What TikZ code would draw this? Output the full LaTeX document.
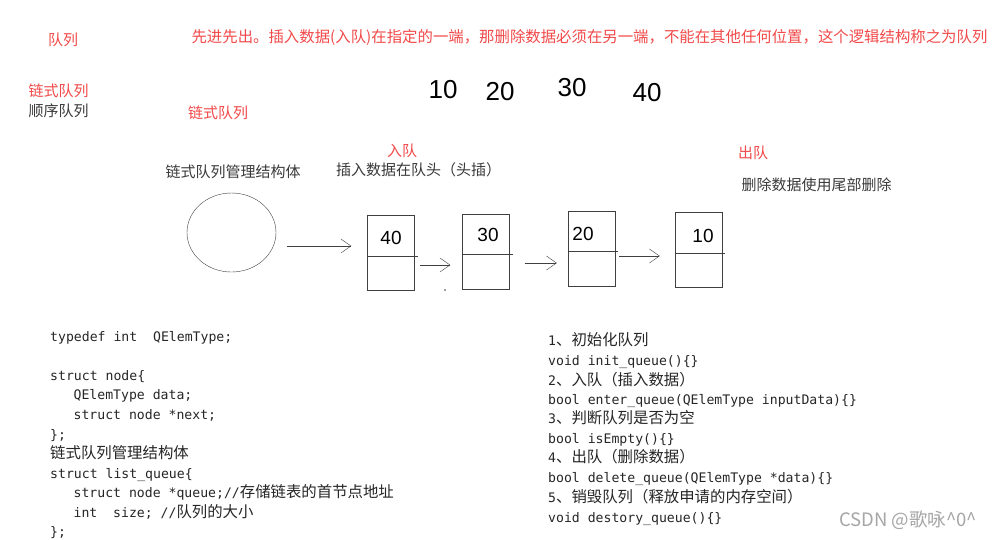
\documentclass[tikz,border=0pt]{standalone}
\usepackage{fontspec}
\setmainfont{Liberation Sans}
\setmonofont{DejaVu Sans Mono}
\newfontfamily\cjk{Noto Sans CJK SC}
\usetikzlibrary{arrows.meta,shapes.geometric}
\definecolor{redtxt}{HTML}{F24A4A}
\definecolor{darktxt}{HTML}{3A3A3A}
\definecolor{linec}{HTML}{404040}
\definecolor{codec}{HTML}{262626}
\newcommand{\zh}[1]{{\cjk\fontsize{15.4}{15.4}\selectfont #1}}
\begin{document}
\begin{tikzpicture}[x=1pt,y=-1pt,
  lab/.style={font=\cjk\fontsize{15}{15}\selectfont, inner sep=0pt, text=darktxt},
  redlab/.style={lab, text=redtxt},
  code/.style={font=\ttfamily\fontsize{13.15}{13.15}\selectfont, inner sep=0pt, anchor=base west, text=codec},
  qbox/.style={draw=linec, minimum width=48pt, minimum height=75pt, inner sep=0pt},
  link/.style={draw=linec, -{Straight Barb[length=10pt,width=14pt]}},
  hand/.style={font=\fontsize{26}{26}\selectfont, inner sep=0pt, text=black},
  boxnum/.style={font=\fontsize{19}{19}\selectfont, inner sep=0pt, text=black}
]
\useasboundingbox[fill=white] (0,0) rectangle (996,539);

% top labels
\node[redlab] (t1) at (63,40) {队列};
\node[redlab, font=\cjk\fontsize{15.4}{15.4}\selectfont] (title) at (589.5,37) {先进先出。插入数据(入队)在指定的一端，那删除数据必须在另一端，不能在其他任何位置，这个逻辑结构称之为队列};
\node[redlab] (t2) at (58.5,91) {链式队列};
\node[lab] (t3) at (58.5,110.5) {顺序队列};
\node[redlab] (t4) at (218,113) {链式队列};

% handwritten numbers
\node[hand] (h10) at (443,90) {10};
\node[hand] (h20) at (500,92) {20};
\node[hand] (h30) at (572,88) {30};
\node[hand] (h40) at (647,93) {40};

% middle labels
\node[lab] (mgr) at (233,171.5) {链式队列管理结构体};
\node[redlab] (enq) at (402,151) {入队};
\node[lab] (enqd) at (418.5,169.5) {插入数据在队头（头插）};
\node[redlab] (deq) at (753,153) {出队};
\node[lab] (deqd) at (816.5,185) {删除数据使用尾部删除};

% structure
\node[draw=linec, ellipse, minimum width=89pt, minimum height=79pt, inner sep=0pt] (ell) at (231.5,232.5) {};
\node[qbox, minimum width=47pt] (b40) at (391,253) {};
\node[qbox, minimum width=47pt] (b30) at (486,251.5) {};
\node[qbox, minimum width=47pt] (b20) at (591.5,248.5) {};
\node[qbox, minimum width=47pt] (b10) at (698.5,250) {};

\draw[linec] (b40.west |- 0,256) -- (418,256);
\draw[linec] (b30.west |- 0,254.5) -- (513,254.5);
\draw[linec] (b20.west |- 0,251.5) -- (618,251.5);
\draw[linec] (b10.west |- 0,253) -- (725,253);

\node[boxnum] (n40) at (391,238) {40};
\node[boxnum] (n30) at (488,235) {30};
\node[boxnum] (n20) at (583,234) {20};
\node[boxnum] (n10) at (703,236) {10};

\draw[link, shorten <=11pt, shorten >=16pt] (ell.east |- 0,246) -- (b40.west |- 0,246);
\draw[link, shorten <=5pt, shorten >=12pt] (b40.east |- 0,265) -- (b30.west |- 0,265);
\draw[link, shorten <=15pt, shorten >=11pt] (b30.east |- 0,263) -- (b20.west |- 0,263);
\draw[link, shorten <=4pt, shorten >=15pt] (b20.east |- 0,256) -- (b10.west |- 0,256);
\fill[linec] (445,290) circle (0.8);

% left code
\node[code] (c1) at (50,341) {typedef int\ \ QElemType;};
\node[code] (c2) at (50,380) {struct node\{};
\node[code] (c3) at (73.4,399.5) {QElemType data;};
\node[code] (c4) at (73.4,419) {struct node *next;};
\node[code] (c5) at (50,439) {\};};
\node[code] (c6) at (50,458.5) {\zh{链式队列管理结构体}};
\node[code] (c7) at (50,478) {struct list\_queue\{};
\node[code] (c8) at (73.4,497.5) {struct node *queue;//\zh{存储链表的首节点地址}};
\node[code] (c9) at (73.4,517) {int\ \ size; //\zh{队列的大小}};
\node[code] (c10) at (50,536.5) {\};};

% right code
\node[code] (r1) at (548,345.5) {1\zh{、初始化队列}};
\node[code] (r2) at (548,365.5) {void init\_queue()\{\}};
\node[code] (r3) at (548,385) {2\zh{、入队（插入数据）}};
\node[code] (r4) at (548,404) {bool enter\_queue(QElemType inputData)\{\}};
\node[code] (r5) at (548,423.5) {3\zh{、判断队列是否为空}};
\node[code] (r6) at (548,443) {bool isEmpty()\{\}};
\node[code] (r7) at (548,462.5) {4\zh{、出队（删除数据）}};
\node[code] (r8) at (548,482) {bool delete\_queue(QElemType *data)\{\}};
\node[code] (r9) at (548,502) {5\zh{、销毁队列（释放申请的内存空间）}};
\node[code] (r10) at (548,522) {void destory\_queue()\{\}};

% watermark
\node[font=\cjk\fontsize{18.5}{18.5}\selectfont, inner sep=0pt, text=black!35] (wm) at (908,520) {CSDN @歌咏\textasciicircum 0\textasciicircum};
\end{tikzpicture}
\end{document}
